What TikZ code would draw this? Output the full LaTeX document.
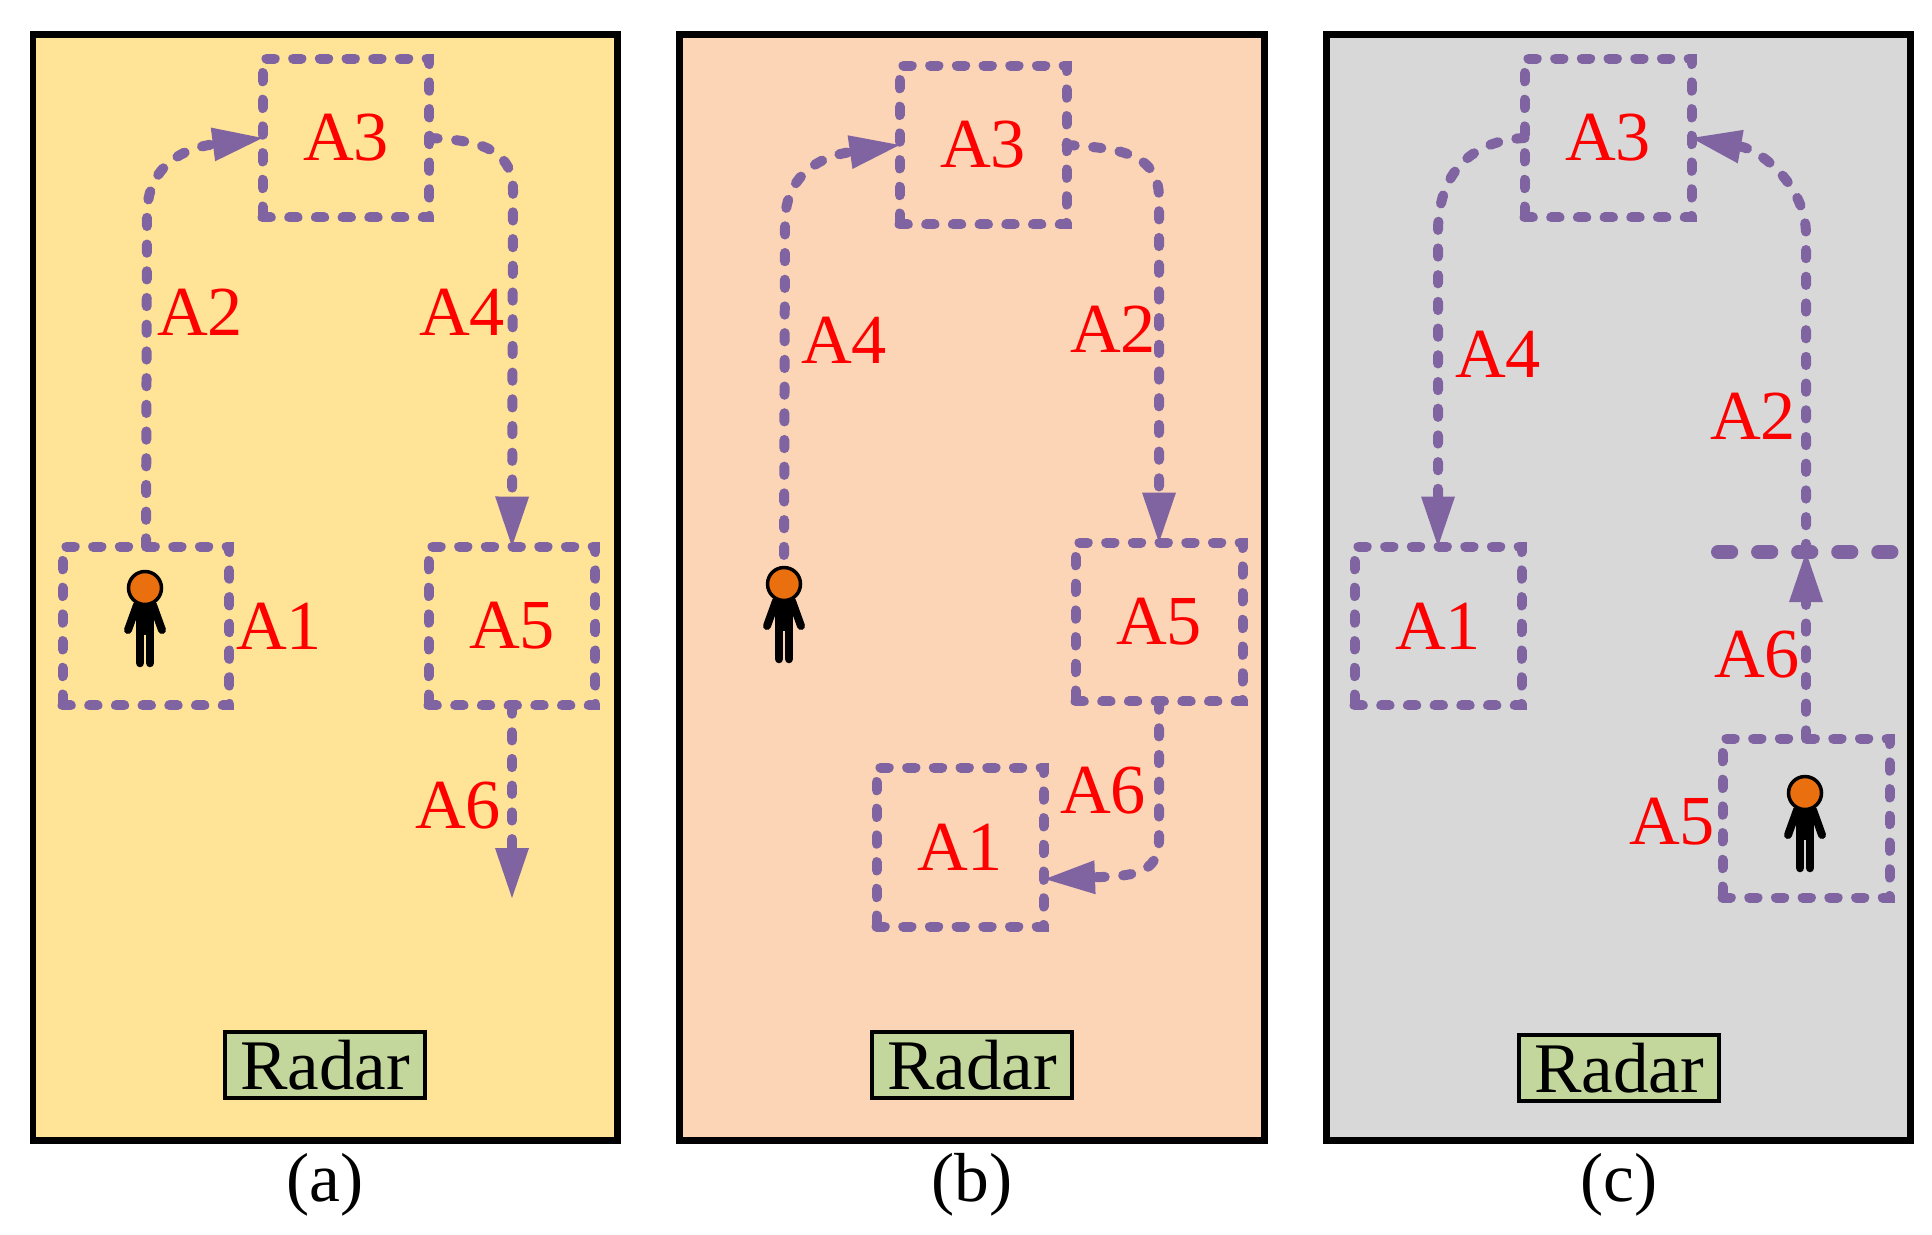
\documentclass[tikz,border=0pt]{standalone}
\usepackage{fontspec}
\setmainfont{Liberation Serif}
\usetikzlibrary{arrows.meta}
\definecolor{flowpurple}{HTML}{8064A2}
\definecolor{headorange}{HTML}{EA700F}
\definecolor{radargreen}{HTML}{C3D69B}
\definecolor{panelyellow}{HTML}{FFE397}
\definecolor{panelpeach}{HTML}{FBD5B5}
\definecolor{panelgray}{HTML}{D8D8D8}
\tikzset{
    panel/.style={draw=black,line width=0.14cm},
    flow/.style={draw=flowpurple,line width=0.2cm,line cap=round,dash pattern=on 4.7pt off 10.5pt},
    tipflow/.style={flow,-{Triangle[length=1cm,width=0.68cm,line width=0pt]}},
    zone/.style={flow,text=red,minimum width=3.34cm,minimum height=3.18cm,inner sep=0pt,outer sep=0pt,font=\fontsize{40}{48}\selectfont},
    tag/.style={text=red,inner sep=0pt,font=\fontsize{40}{48}\selectfont},
    radar/.style={draw=black,fill=radargreen,line width=0.07cm,minimum width=4cm,minimum height=1.32cm,inner sep=0pt,font=\fontsize{40.5}{48}\selectfont},
    caption/.style={inner sep=0pt,font=\fontsize{39.5}{47}\selectfont}
}
\newcommand{\drawperson}[2]{
    \begin{scope}[shift={(#1,#2)}]
        \fill (-9,15) -- (9,15) -- (9,47) -- (-9,47) -- cycle;
        \draw [line width=0.16cm,line cap=round] (-8,17) -- (-17,42);
        \draw [line width=0.16cm,line cap=round] (8,17) -- (17,42);
        \draw [line width=0.17cm,line cap=round] (-5,40) -- (-5,75);
        \draw [line width=0.17cm,line cap=round] (5,40) -- (5,75);
        \draw [fill=headorange,line width=0.07cm] (0,0) circle (16.5);
    \end{scope}
}
\begin{document}
\begin{tikzpicture}[x=0.02cm,y=-0.02cm]
    \useasboundingbox (0,0) rectangle (1932,1234);

    % 图(a)
    \draw [panel,fill=panelyellow] (33,34) rectangle (617,1140);
    \node [zone] (A1a) at (146,626) {};
    \node [zone] (A3a) at (346,138) {A3};
    \node [zone] (A5a) at (512,626) {A5};
    \coordinate (A6a) at (512,898);
    \draw [tipflow] (A1a.north) -- (147,215) .. controls (147,165) and (185,148) .. (A3a.west);
    \draw [tipflow] (A3a.east) .. controls (470,140) and (513,145) .. (513,190) -- (A5a.north);
    \draw [tipflow] (A5a.south) -- (A6a);
    \drawperson{145}{588}
    \node [tag] (A2taga) at (200,312) {A2};
    \node [tag] (A4taga) at (462,312) {A4};
    \node [tag] (A1taga) at (279,626) {A1};
    \node [tag] (A6taga) at (458,806) {A6};
    \node [radar] (Radara) at (325,1065) {Radar};
    \node [caption] (capa) at (325,1185) {(a)};

    % 图(b)
    \draw [panel,fill=panelpeach] (679,34) rectangle (1264,1140);
    \node [zone] (A3b) at (983,145) {A3};
    \node [zone] (A5b) at (1159,622) {A5};
    \node [zone] (A1b) at (960,847) {A1};
    \coordinate (startb) at (784,555);
    \coordinate (A1inb) at (1045,879);
    \draw [tipflow] (startb) -- (785,223) .. controls (785,173) and (823,156) .. (A3b.west);
    \draw [tipflow] (A3b.east) .. controls (1118,148) and (1159,153) .. (1159,198) -- (A5b.north);
    \draw [tipflow] (A5b.south) -- (1159,840) .. controls (1159,875) and (1130,876) .. (A1inb);
    \drawperson{784}{584}
    \node [tag] (A4tagb) at (844,340) {A4};
    \node [tag] (A2tagb) at (1113,329) {A2};
    \node [tag] (A6tagb) at (1103,791) {A6};
    \node [radar] (Radarb) at (972,1065) {Radar};
    \node [caption] (capb) at (972,1185) {(b)};

    % 图(c)
    \draw [panel,fill=panelgray] (1326,34) rectangle (1910,1140);
    \node [zone] (A3c) at (1608,138) {A3};
    \node [zone] (A1c) at (1438,626) {A1};
    \node [zone] (A5c) at (1806,818) {};
    \coordinate (crossc) at (1806,552);
    \coordinate (lineL) at (1718,552);
    \coordinate (lineR) at (1892,552);
    \draw [flow,line width=0.28cm,dash pattern=on 7.5pt off 15.3pt] (lineL) -- (lineR);
    \draw [tipflow] (A3c.west) .. controls (1480,140) and (1438,165) .. (1438,232) -- (A1c.north);
    \draw [tipflow] (A5c.north) -- (crossc);
    \draw [tipflow] (crossc) -- (1806,235) .. controls (1806,185) and (1760,150) .. (A3c.east);
    \drawperson{1805}{793}
    \node [tag] (A4tagc) at (1498,354) {A4};
    \node [tag] (A2tagc) at (1753,416) {A2};
    \node [tag] (A6tagc) at (1757,655) {A6};
    \node [tag] (A5tagc) at (1672,822) {A5};
    \node [radar] (Radarc) at (1619,1068) {Radar};
    \node [caption] (capc) at (1619,1185) {(c)};
\end{tikzpicture}
\end{document}
